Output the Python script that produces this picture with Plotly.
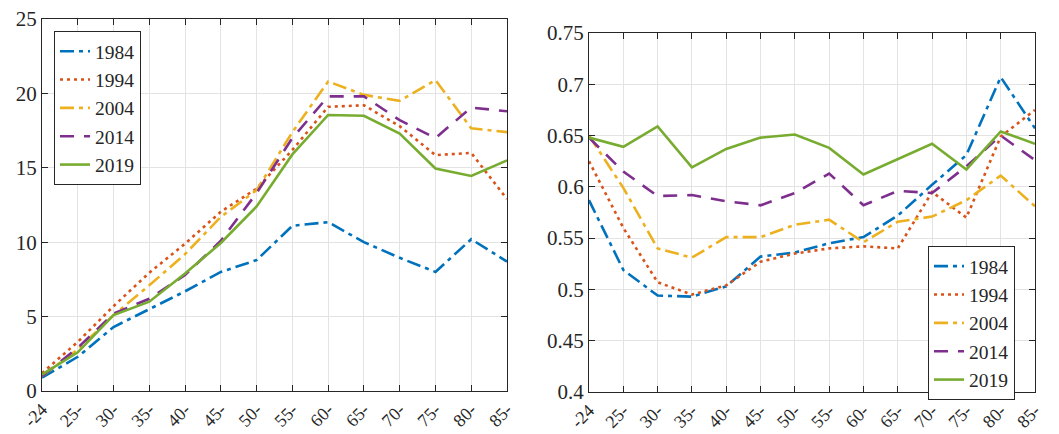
import plotly.graph_objects as go

age_labels = ["-24", "25-", "30-", "35-", "40-", "45-", "50-", "55-", "60-", "65-", "70-", "75-", "80-", "85-"]
years = ["1984", "1994", "2004", "2014", "2019"]

left_1984 = [0.9, 2.3, 4.3, 5.5, 6.7, 8.0, 8.8, 11.1, 11.35, 10.0, 8.95, 8.0, 10.2, 8.7]
left_1994 = [1.2, 3.3, 5.7, 7.95, 9.9, 12.05, 13.6, 16.2, 19.1, 19.2, 17.8, 15.85, 16.0, 12.9]
left_2004 = [1.0, 2.8, 5.1, 7.1, 9.2, 11.7, 13.5, 17.4, 20.8, 19.9, 19.5, 20.9, 17.65, 17.4]
left_2014 = [1.0, 2.9, 5.2, 6.2, 7.8, 10.1, 13.3, 17.0, 19.8, 19.8, 18.2, 17.0, 19.05, 18.8]
left_2019 = [1.1, 2.6, 5.1, 6.0, 7.9, 9.95, 12.4, 15.9, 18.55, 18.5, 17.3, 14.95, 14.45, 15.5]

right_1984 = [0.587, 0.519, 0.494, 0.493, 0.503, 0.532, 0.536, 0.545, 0.551, 0.572, 0.602, 0.631, 0.707, 0.657]
right_1994 = [0.625, 0.560, 0.507, 0.495, 0.504, 0.527, 0.535, 0.540, 0.542, 0.540, 0.595, 0.570, 0.649, 0.675]
right_2004 = [0.650, 0.599, 0.540, 0.531, 0.551, 0.551, 0.563, 0.568, 0.546, 0.566, 0.571, 0.587, 0.611, 0.581]
right_2014 = [0.648, 0.615, 0.591, 0.592, 0.586, 0.582, 0.594, 0.613, 0.582, 0.596, 0.594, 0.620, 0.650, 0.626]
right_2019 = [0.648, 0.639, 0.659, 0.619, 0.637, 0.648, 0.651, 0.638, 0.612, 0.627, 0.642, 0.617, 0.654, 0.642]

left_series = [left_1984, left_1994, left_2004, left_2014, left_2019]
right_series = [right_1984, right_1994, right_2004, right_2014, right_2019]

colors = ["#0072BD", "#D95319", "#EDB120", "#7E2F8E", "#77AC30"]
dashes = ["14px,5px,4px,5px", "3px,4px", "14px,5px,4px,5px", "14px,10px", "solid"]

W, H = 1059, 434
FONT = "'Liberation Serif', 'Times New Roman', Times, serif"
xpos = list(range(len(age_labels)))

fig = go.Figure()
for name, ys, c, d in zip(years, left_series, colors, dashes):
    fig.add_trace(go.Scatter(x=xpos, y=ys, mode="lines", name=name,
                             line=dict(color=c, width=2.6, dash=d),
                             xaxis="x", yaxis="y", legend="legend"))
for name, ys, c, d in zip(years, right_series, colors, dashes):
    fig.add_trace(go.Scatter(x=xpos, y=ys, mode="lines", name=name,
                             line=dict(color=c, width=2.6, dash=d),
                             xaxis="x2", yaxis="y2", legend="legend2"))

axis_common = dict(showline=True, linecolor="#262626", linewidth=1, mirror="ticks",
                   ticks="inside", ticklen=6, tickcolor="#262626", automargin=False,
                   showgrid=True, gridcolor="#e3e3e3", gridwidth=1, zeroline=False,
                   tickfont=dict(family=FONT, size=21, color="#262626"))

xaxis_common = dict(axis_common)
xaxis_common.update(tickmode="array", tickvals=xpos, ticktext=age_labels, range=[0, 13],
                    tickangle=-45, tickfont=dict(family=FONT, size=18, color="#262626"))

legend_common = dict(xanchor="left", yanchor="top",
                     bgcolor="white", bordercolor="#262626", borderwidth=1,
                     font=dict(family=FONT, size=19.5, color="#262626"),
                     tracegroupgap=0, itemwidth=30)

fig.update_layout(
    width=W, height=H,
    margin=dict(l=0, r=0, t=0, b=0),
    paper_bgcolor="white", plot_bgcolor="white",
    showlegend=True,
    font=dict(family=FONT),
    xaxis=dict(xaxis_common, domain=[42 / W, 507 / W], anchor="y"),
    yaxis=dict(axis_common, domain=[1 - 391 / H, 1 - 19 / H], range=[0, 25],
               tickvals=[0, 5, 10, 15, 20, 25], anchor="x"),
    xaxis2=dict(xaxis_common, domain=[589 / W, 1035 / W], anchor="y2"),
    yaxis2=dict(axis_common, domain=[1 - 392 / H, 1 - 33 / H], range=[0.4, 0.75],
                tickvals=[0.4, 0.45, 0.5, 0.55, 0.6, 0.65, 0.7, 0.75],
                ticktext=["0.4", "0.45", "0.5", "0.55", "0.6", "0.65", "0.7", "0.75"], anchor="x2"),
    legend=dict(legend_common, x=54 / W, y=1 - 31 / H),
    legend2=dict(legend_common, x=928 / W, y=1 - 246 / H),
)

fig.write_html("out.html", config={"displayModeBar": False},
               post_script="document.body.style.margin='0';document.body.style.overflow='hidden';")
